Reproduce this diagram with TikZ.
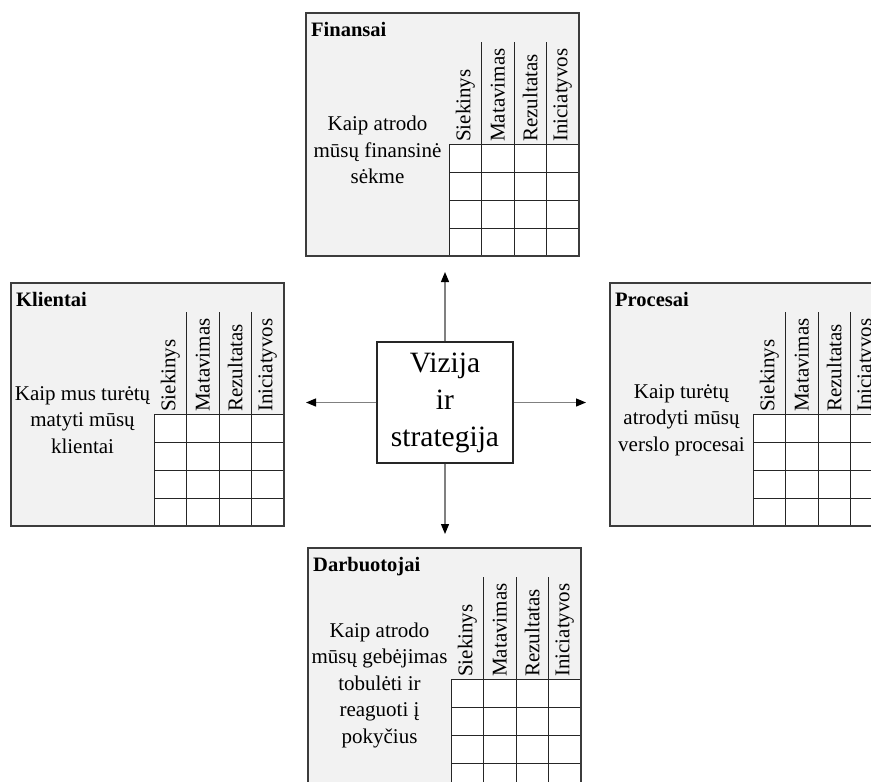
\documentclass[tikz,border=0pt]{standalone}
\usepackage{fontspec}
\setmainfont{Liberation Serif}
\usetikzlibrary{arrows.meta}
\definecolor{panelfill}{HTML}{F2F2F2}
\definecolor{panelline}{HTML}{3C3C3C}
\definecolor{arrowline}{HTML}{808080}
\tikzset{
  panel/.style={fill=panelfill, draw=panelline, line width=1.4pt, inner sep=0pt, anchor=north west},
  paneledge/.style={draw=panelline, line width=1.4pt},
  gridline/.style={draw=black!85, line width=1pt},
  ptitle/.style={font=\fontsize{20.5}{23}\selectfont\bfseries, anchor=base west, inner sep=0pt},
  hdr/.style={font=\fontsize{21}{24}\selectfont, rotate=90, anchor=west, inner sep=0pt},
  desc/.style={font=\fontsize{21}{26.5}\selectfont, align=center, inner sep=0pt},
  centerbox/.style={draw=black!85, fill=white, line width=1.2pt, minimum width=136pt, minimum height=121pt, inner sep=0pt, align=center, font=\fontsize{29.5}{37}\selectfont},
  conn/.style={draw=arrowline, line width=1.2pt, -{Triangle[length=10pt, width=8pt, color=black]}}
}
\newcommand\bscpanel[5]{%
  \begin{scope}[shift={(#2,#3)}]
    \node[panel, minimum width=273pt, minimum height=243pt] (#1) at (0,0) {};
    \node[ptitle] (#1-t) at (5,23) {#4};
    \fill[white] (143,131) rectangle (273,243);
    \foreach \i in {1,2,3} {\draw[gridline] (143+\i*32.5,29) -- (143+\i*32.5,243);}
    \foreach \j in {0,1,2,3} {\draw[gridline] (143,131+\j*28) -- (273,131+\j*28);}
    \draw[gridline] (143,131) -- (143,243);
    \draw[paneledge] (0,0) rectangle (273,243);
    \foreach \w [count=\k] in {Siekinys,Matavimas,Rezultatas,Iniciatyvos} {
      \node[hdr] (#1-h\k) at (143+\k*32.5-16.25,129) {\w};
    }
    \node[desc] (#1-d) at (71.5,137) {#5};
  \end{scope}%
}
\begin{document}
\begin{tikzpicture}[x=1pt,y=-1pt]
  \clip (0,0) rectangle (871,782);
  \fill[white] (0,0) rectangle (871,782);

  \bscpanel{fin}{306}{13}{Finansai}{Kaip atrodo\\mūsų finansinė\\sėkme}
  \bscpanel{kli}{11}{283}{Klientai}{Kaip mus turėtų\\matyti mūsų\\klientai}
  \bscpanel{pro}{610}{283}{Procesai}{Kaip turėtų\\atrodyti mūsų\\verslo procesai}
  \bscpanel{dar}{308}{548}{Darbuotojai}{Kaip atrodo\\mūsų gebėjimas\\tobulėti ir\\reaguoti į\\pokyčius}

  \node[centerbox] (vs) at (445,402.5) {Vizija\\ir\\strategija};

  \coordinate (eup) at (445,272);
  \coordinate (edown) at (445,534);
  \coordinate (eleft) at (306,402.5);
  \coordinate (eright) at (586,402.5);

  \draw[conn] (vs.north) -- (eup);
  \draw[conn] (vs.south) -- (edown);
  \draw[conn] (vs.west) -- (eleft);
  \draw[conn] (vs.east) -- (eright);
\end{tikzpicture}
\end{document}
